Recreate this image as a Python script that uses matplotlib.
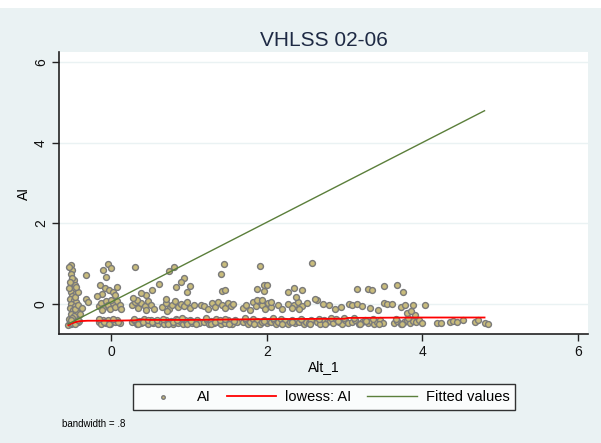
import numpy as np
import matplotlib
matplotlib.use("Agg")
from matplotlib import pyplot as plt
from matplotlib.patches import Rectangle

plt.rcParams["font.family"] = ["Liberation Sans", "DejaVu Sans"]

# AI vs Alt_1, grouped by band
low_pts = [
    (-0.55, -0.52), (-0.53, -0.45), (-0.51, -0.50), (-0.49, -0.42), (-0.47, -0.48), (-0.45, -0.40),
    (-0.43, -0.46), (-0.41, -0.43), (-0.54, -0.38), (-0.50, -0.47), (-0.46, -0.51), (-0.42, -0.39),
    (-0.16, -0.44), (-0.13, -0.50), (-0.10, -0.41), (-0.07, -0.47), (-0.04, -0.39), (-0.01, -0.49),
    (0.02, -0.43), (0.05, -0.46), (0.08, -0.40), (0.11, -0.48), (-0.15, -0.37), (-0.09, -0.45),
    (-0.03, -0.51), (0.03, -0.38), (0.09, -0.44),
    (0.27, -0.46), (0.30, -0.40), (0.33, -0.49), (0.36, -0.43), (0.39, -0.47), (0.42, -0.38),
    (0.45, -0.45), (0.48, -0.50), (0.51, -0.41), (0.54, -0.47), (0.57, -0.43), (0.60, -0.49),
    (0.29, -0.37), (0.35, -0.51), (0.41, -0.44), (0.47, -0.39), (0.53, -0.46), (0.59, -0.40),
    (0.65, -0.44), (0.68, -0.49), (0.71, -0.40), (0.74, -0.46), (0.77, -0.42), (0.80, -0.50),
    (0.83, -0.38), (0.86, -0.47), (0.89, -0.43), (0.92, -0.49), (0.95, -0.41), (0.98, -0.46),
    (1.01, -0.39), (1.04, -0.48), (1.07, -0.44), (1.10, -0.40), (1.13, -0.47), (0.67, -0.37),
    (0.73, -0.51), (0.79, -0.45), (0.85, -0.41), (0.91, -0.36), (0.97, -0.50), (1.03, -0.43),
    (1.09, -0.49),
    (1.20, -0.45), (1.23, -0.40), (1.26, -0.49), (1.29, -0.43), (1.32, -0.47), (1.35, -0.38),
    (1.38, -0.46), (1.41, -0.50), (1.44, -0.42), (1.47, -0.47), (1.50, -0.39), (1.53, -0.45),
    (1.56, -0.49), (1.59, -0.41), (1.62, -0.46), (1.22, -0.36), (1.28, -0.51), (1.34, -0.44),
    (1.40, -0.40), (1.46, -0.37), (1.52, -0.50), (1.58, -0.43),
    (1.70, -0.46), (1.73, -0.41), (1.76, -0.49), (1.79, -0.44), (1.82, -0.38), (1.85, -0.47),
    (1.88, -0.42), (1.91, -0.50), (1.94, -0.45), (1.97, -0.39), (2.00, -0.48), (2.03, -0.43),
    (2.06, -0.46), (2.09, -0.40), (2.12, -0.49), (2.15, -0.44), (2.18, -0.37), (2.21, -0.47),
    (2.24, -0.42), (2.27, -0.50), (2.30, -0.45), (2.33, -0.39), (2.36, -0.48), (2.39, -0.43),
    (2.42, -0.46), (2.45, -0.40), (2.48, -0.49), (2.51, -0.44), (2.54, -0.47), (2.57, -0.41),
    (1.72, -0.36), (1.84, -0.51), (1.96, -0.42), (2.08, -0.36), (2.20, -0.51), (2.32, -0.44),
    (2.44, -0.37), (2.56, -0.50),
    (2.65, -0.44), (2.69, -0.49), (2.73, -0.40), (2.77, -0.46), (2.81, -0.42), (2.85, -0.48),
    (2.89, -0.38), (2.93, -0.45), (2.97, -0.50), (3.01, -0.41), (3.05, -0.47), (2.67, -0.37),
    (2.75, -0.51), (2.83, -0.36), (2.91, -0.43), (2.99, -0.35),
    (3.10, -0.46), (3.14, -0.41), (3.18, -0.49), (3.22, -0.44), (3.26, -0.39), (3.30, -0.47),
    (3.34, -0.42), (3.38, -0.50), (3.42, -0.45), (3.46, -0.40), (3.50, -0.48), (3.12, -0.36),
    (3.20, -0.51), (3.28, -0.43), (3.36, -0.37), (3.44, -0.50),
    (3.64, -0.47), (3.68, -0.42), (3.72, -0.49), (3.76, -0.44), (3.80, -0.40), (3.84, -0.48),
    (3.88, -0.43), (3.92, -0.46), (3.96, -0.41), (4.00, -0.47), (3.66, -0.38), (3.74, -0.51),
    (3.82, -0.36),
    (4.19, -0.47), (4.24, -0.47), (4.36, -0.45), (4.40, -0.42), (4.45, -0.44), (4.52, -0.40),
    (4.68, -0.45), (4.72, -0.40), (4.80, -0.47), (4.84, -0.50),
]

mid_pts = [
    (-0.16, -0.05), (-0.13, 0.02), (-0.10, -0.10), (-0.07, 0.06), (-0.04, -0.02), (-0.01, -0.14),
    (0.02, 0.03), (0.05, -0.07), (0.08, 0.08), (0.11, -0.03), (0.13, -0.12), (-0.12, -0.16),
    (0.00, 0.10),
    (0.27, -0.04), (0.31, 0.05), (0.35, -0.10), (0.39, 0.02), (0.43, -0.06), (0.47, 0.07),
    (0.51, -0.02), (0.55, -0.12), (0.33, 0.09), (0.45, -0.15),
    (0.66, -0.08), (0.70, 0.03), (0.74, -0.13), (0.78, -0.03), (0.82, 0.06), (0.86, -0.09),
    (0.90, 0.00), (0.94, -0.05), (0.98, 0.04), (1.02, -0.11), (1.06, -0.04), (0.72, -0.17),
    (1.16, -0.02), (1.20, -0.05), (1.25, -0.12), (1.30, 0.02), (1.34, -0.07), (1.38, 0.05),
    (1.42, -0.02), (1.46, -0.10), (1.50, 0.03), (1.54, -0.05), (1.57, 0.00),
    (1.70, -0.10), (1.74, -0.02), (1.78, -0.15), (1.82, 0.04), (1.86, -0.06), (1.90, 0.08),
    (1.94, -0.03), (1.98, -0.12), (2.02, 0.02), (2.06, -0.08), (1.88, 0.10),
    (2.06, 0.05), (2.15, -0.03), (2.28, 0.00), (2.35, -0.02), (2.40, 0.04), (2.46, -0.06),
    (2.52, 0.02), (2.20, -0.12), (2.32, -0.10), (2.42, -0.14),
    (2.65, 0.10), (2.72, 0.00), (2.80, -0.04), (2.95, -0.08), (3.06, 0.00), (3.10, -0.02),
    (3.16, 0.00), (3.22, -0.05), (3.33, -0.10), (2.88, -0.12),
    (3.43, -0.15), (3.51, 0.03), (3.54, -0.01), (3.61, 0.00), (3.72, -0.07), (3.78, -0.02),
    (3.88, -0.03), (4.04, -0.03), (3.80, -0.22), (3.91, -0.28), (3.85, -0.18),
]

high_pts = [
    (-0.52, 0.97), (-0.50, 0.85), (-0.52, 0.75), (-0.48, 0.60), (-0.51, 0.50), (-0.47, 0.47),
    (-0.49, 0.38), (-0.52, 0.30), (-0.46, 0.25), (-0.50, 0.20), (-0.53, 0.12), (-0.48, 0.10),
    (-0.45, 0.05), (-0.51, 0.00), (-0.47, -0.05), (-0.53, -0.10), (-0.49, -0.15), (-0.44, -0.20),
    (-0.52, -0.25), (-0.48, -0.30), (-0.50, -0.35), (-0.46, -0.12), (-0.42, -0.02), (-0.54, 0.40),
    (-0.50, 0.65), (-0.47, 0.18), (-0.43, 0.30), (-0.32, 0.72), (-0.32, 0.12), (-0.30, 0.05),
    (-0.40, -0.25), (-0.38, -0.10), (-0.54, 0.92), (-0.53, 0.55), (-0.45, 0.42), (-0.51, -0.40),
    (-0.04, 0.98), (-0.10, 0.85), (-0.06, 0.67), (0.00, 0.90), (-0.14, 0.47), (-0.08, 0.40),
    (-0.03, 0.35), (0.03, 0.30), (0.08, 0.42), (-0.12, 0.25), (0.05, 0.22), (-0.18, 0.20),
    (0.31, 0.92), (0.45, 0.22), (0.38, 0.28), (0.52, 0.35), (0.28, 0.15),
    (0.81, 0.92), (0.74, 0.82), (0.94, 0.63), (0.90, 0.55), (0.84, 0.42), (1.02, 0.45),
    (0.97, 0.30), (0.71, 0.12), (0.62, 0.50),
    (1.45, 0.98), (1.41, 0.73), (1.42, 0.32), (1.46, 0.35),
    (1.92, 0.95), (1.87, 0.37), (1.96, 0.32), (1.97, 0.47), (1.94, 0.10),
    (2.58, 1.02), (2.00, 0.47), (2.28, 0.30), (2.35, 0.40), (2.45, 0.35), (2.38, 0.18),
    (3.16, 0.37), (3.30, 0.37), (2.62, 0.12),
    (3.51, 0.45), (3.68, 0.47), (3.75, 0.30), (3.35, 0.35),
]

lowess_x = [-0.55, -0.50, -0.45, -0.40, -0.30, 0.00, 0.30, 0.40, 0.50, 0.70,
            1.00, 1.50, 2.00, 2.50, 3.00, 3.05, 3.50, 4.00, 4.50, 4.80]
lowess_y = [-0.53, -0.48, -0.45, -0.43, -0.42, -0.42, -0.41, -0.39, -0.40, -0.40,
            -0.40, -0.39, -0.38, -0.375, -0.37, -0.35, -0.345, -0.34, -0.34, -0.34]

fit_x = [-0.55, 4.80]
fit_y = [-0.50, 4.80]

x_ticks = [0, 2, 4, 6]
y_ticks = [0, 2, 4, 6]

BG = "#EAF2F3"

all_pts = np.array(low_pts + mid_pts + high_pts)

fig = plt.figure(figsize=(6.01, 4.43), dpi=100, facecolor=BG)
# white strip along the top edge
fig.patches.append(Rectangle((0, 1 - 8 / 443), 1, 8 / 443, transform=fig.transFigure,
                             facecolor="white", edgecolor="none", zorder=0))

ax = fig.add_axes([59 / 601, 1 - 334 / 443, (588 - 59) / 601, (334 - 52) / 443])
ax.set_facecolor("white")

ax.scatter(all_pts[:, 0], all_pts[:, 1], s=18, facecolor="#C9BC7C", edgecolor="#7A7A7A",
           linewidth=1.0, zorder=3, label="AI")
ax.plot(lowess_x, lowess_y, color="#FF0000", lw=1.3, zorder=4, label="lowess: AI")
ax.plot(fit_x, fit_y, color="#5B7F3B", lw=1.0, zorder=4, label="Fitted values")

ax.set_xlim(-0.67, 6.13)
ax.set_ylim(-0.75, 6.26)
ax.set_xticks(x_ticks)
ax.set_yticks(y_ticks)
ax.set_yticklabels([str(t) for t in y_ticks], rotation=90, va="center")
ax.grid(axis="y", color=BG, lw=1.0, zorder=0)
ax.set_axisbelow(True)

for side in ["top", "right"]:
    ax.spines[side].set_visible(False)
for side in ["left", "bottom"]:
    ax.spines[side].set_color("#222222")
    ax.spines[side].set_linewidth(1.2)
ax.tick_params(direction="out", length=5, width=1, color="#222222", labelsize=10,
               labelcolor="#111111", pad=3)

ax.set_xlabel("Alt_1", fontsize=10, labelpad=1)
ax.set_ylabel("AI", fontsize=10, labelpad=2)
ax.set_title("VHLSS 02-06", fontsize=15, color="#1E2A44", pad=4)

leg = fig.legend(loc="center", bbox_to_anchor=(324 / 601, 1 - 397 / 443), ncol=3,
                 fontsize=10.5, frameon=True, fancybox=False, handlelength=3.4,
                 columnspacing=1.1, handletextpad=0.6, borderpad=0.4, markerscale=0.6)
leg.get_frame().set_edgecolor("black")
leg.get_frame().set_linewidth(1.0)

fig.text(62 / 601, 1 - 424 / 443, "bandwidth = .8", fontsize=7, va="center")

fig.savefig("out.png", dpi=100, facecolor=BG)
